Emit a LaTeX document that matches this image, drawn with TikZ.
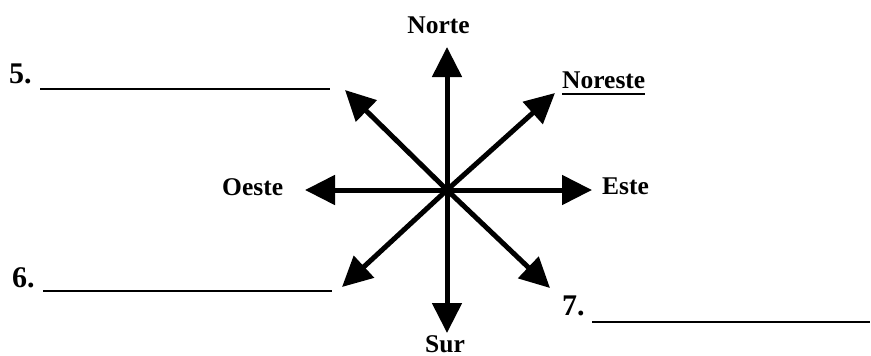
\documentclass[tikz,border=0pt]{standalone}
\usepackage{fontspec}
\setmainfont{Liberation Serif}
\usetikzlibrary{arrows.meta}
\begin{document}
\begin{tikzpicture}[x=1pt,y=-1pt,
  dirarrow/.style={line width=5pt,-{Triangle[length=30pt,width=29pt]}},
  lbl/.style={inner sep=0pt,anchor=base,font=\bfseries\fontsize{25.5}{30}\selectfont},
  numlbl/.style={inner sep=0pt,anchor=base west,font=\bfseries\fontsize{30}{36}\selectfont},
  blank/.style={line width=2pt}]
\useasboundingbox (0,0) rectangle (871,356);
\coordinate (c) at (447,190);
\coordinate (n) at (447,47);
\coordinate (s) at (447,333);
\coordinate (w) at (305,190);
\coordinate (e) at (592,190);
\coordinate (ne) at (555,93);
\coordinate (nw) at (345,90);
\coordinate (sw) at (342,287);
\coordinate (se) at (550,288);
\foreach \t in {n,s,w,e,ne,nw,sw,se} \draw[dirarrow] (c) -- (\t);
\node[lbl] (norte) at (438.5,33) {Norte};
\node[lbl] (sur) at (445,352.5) {Sur};
\node[lbl,anchor=base west] (oeste) at (222,195) {Oeste};
\node[lbl,anchor=base west] (este) at (602,194) {Este};
\node[lbl,anchor=base west] (noreste) at (562,88) {Noreste};
\draw[line width=2pt] ([yshift=-6pt]noreste.base west) -- ([yshift=-6pt]noreste.base east);
\node[numlbl] (q5) at (9,83) {5.};
\node[numlbl] (q6) at (12,287) {6.};
\node[numlbl] (q7) at (562,315) {7.};
\coordinate (l5a) at (40,89); \coordinate (l5b) at (330,89);
\coordinate (l6a) at (43,291); \coordinate (l6b) at (332,291);
\coordinate (l7a) at (592,322); \coordinate (l7b) at (870,322);
\draw[blank] (l5a) -- (l5b);
\draw[blank] (l6a) -- (l6b);
\draw[blank] (l7a) -- (l7b);
\end{tikzpicture}
\end{document}
